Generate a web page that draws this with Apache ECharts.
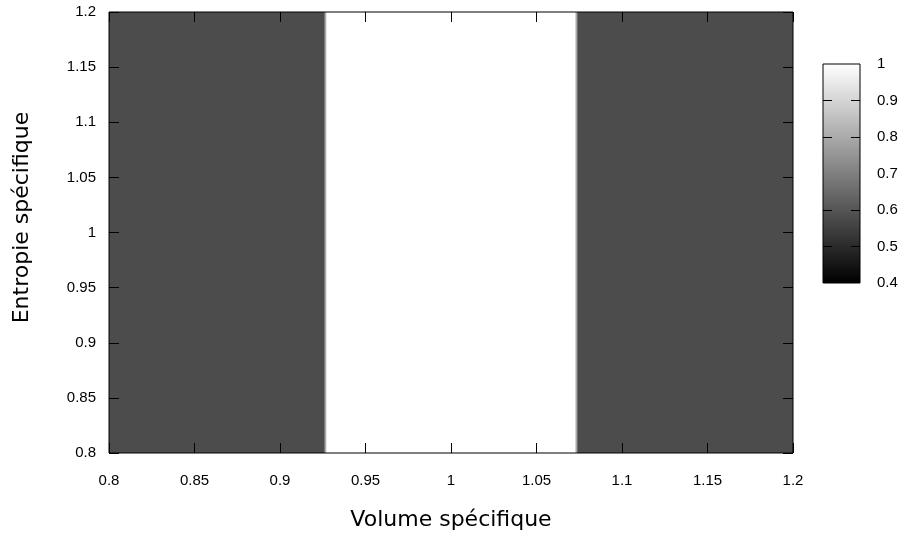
<!DOCTYPE html>
<html>
<head>
<meta charset="utf-8">
<script src="https://cdn.jsdelivr.net/npm/echarts@6/dist/echarts.min.js"></script>
<style>html,body{margin:0;padding:0;background:#fff;}#c{width:906px;height:534px;}</style>
</head>
<body>
<div id="c"></div>
<script>
// Data
const xEdges = [0.8, 0.9262, 0.9272, 1.0728, 1.0738, 1.2];
const cellValues = [0.58, 0.8, 1, 0.8, 0.58];
const yRange = [0.8, 1.2];
const cbRange = [0.4, 1.0];
const cbTickValues = [0.5, 0.6, 0.8, 0.9];
const xTitle = 'Volume spécifique';
const yTitle = 'Entropie spécifique';

const cells = cellValues.map((v, i) => [xEdges[i], xEdges[i + 1], yRange[0], yRange[1], v]);

const tickFont = { fontFamily: 'Liberation Sans', fontSize: 15, color: '#000' };
const titleFont = { fontFamily: 'DejaVu Sans', fontSize: 22, color: '#000' };

const chart = echarts.init(document.getElementById('c'), null, { renderer: 'canvas' });

const mainAxis = (pos, showLabel, extra) => Object.assign({
  type: 'value', gridIndex: 0, position: pos, z: 10,
  min: 0.8, max: 1.2, interval: 0.05,
  axisLine: { show: false },
  axisTick: { show: true, inside: true, length: 10, lineStyle: { color: '#000', width: 1 } },
  splitLine: { show: false },
  axisLabel: Object.assign({ show: showLabel }, tickFont)
}, extra || {});

chart.setOption({
  animation: false,
  backgroundColor: '#fff',
  grid: [
    { left: 109, top: 12, width: 684, height: 441, show: true, z: 9, borderColor: '#000', borderWidth: 1, backgroundColor: 'transparent', containLabel: false, outerBoundsMode: 'none' },
    { left: 823, top: 64, width: 37, height: 219, show: true, z: 9, borderColor: '#000', borderWidth: 1, backgroundColor: 'transparent', containLabel: false, outerBoundsMode: 'none' }
  ],
  visualMap: {
    show: false, type: 'continuous', min: cbRange[0], max: cbRange[1],
    dimension: 4, seriesIndex: 0,
    inRange: { color: ['#000000', '#ffffff'] }
  },
  xAxis: [
    mainAxis('bottom', true, {
      name: xTitle, nameLocation: 'middle', nameGap: 56, nameMoveOverlap: false,
      nameTextStyle: titleFont,
      axisLabel: Object.assign({ show: true, margin: 20 }, tickFont)
    }),
    mainAxis('top', false),
    { type: 'value', gridIndex: 1, min: 0, max: 1, show: false }
  ],
  yAxis: [
    mainAxis('left', true, {
      name: yTitle, nameLocation: 'middle', nameGap: 76, nameMoveOverlap: false,
      nameTextStyle: Object.assign({ padding: [0, 0, 0, 30] }, titleFont),
      axisLabel: Object.assign({ show: true, margin: 13 }, tickFont)
    }),
    mainAxis('right', false),
    {
      type: 'value', gridIndex: 1, position: 'left', z: 10, min: cbRange[0], max: cbRange[1], interval: 0.1,
      axisLine: { show: false }, splitLine: { show: false },
      axisTick: { show: true, inside: true, length: 9, customValues: cbTickValues, lineStyle: { color: '#000' } },
      axisLabel: { show: false }
    },
    {
      type: 'value', gridIndex: 1, position: 'right', z: 10, min: cbRange[0], max: cbRange[1], interval: 0.1,
      axisLine: { show: false }, splitLine: { show: false },
      axisTick: { show: true, inside: true, length: 9, customValues: cbTickValues, lineStyle: { color: '#000' } },
      axisLabel: Object.assign({ show: true, margin: 17 }, tickFont)
    }
  ],
  series: [
    {
      type: 'custom', xAxisIndex: 0, yAxisIndex: 0, z: 1,
      data: cells,
      encode: { x: [0, 1], y: [2, 3] },
      renderItem: function (params, api) {
        const p0 = api.coord([api.value(0), api.value(3)]);
        const p1 = api.coord([api.value(1), api.value(2)]);
        return {
          type: 'rect',
          shape: { x: p0[0], y: p0[1], width: p1[0] - p0[0], height: p1[1] - p0[1] },
          style: { fill: api.visual('color') }
        };
      }
    },
    {
      type: 'custom', xAxisIndex: 2, yAxisIndex: 2, z: 1,
      data: [[0, 1, cbRange[0], cbRange[1]]],
      encode: { x: [0, 1], y: [2, 3] },
      renderItem: function (params, api) {
        const p0 = api.coord([api.value(0), api.value(3)]);
        const p1 = api.coord([api.value(1), api.value(2)]);
        return {
          type: 'rect',
          shape: { x: p0[0], y: p0[1], width: p1[0] - p0[0], height: p1[1] - p0[1] },
          style: {
            fill: new echarts.graphic.LinearGradient(0, 0, 0, 1, [
              { offset: 0, color: '#ffffff' }, { offset: 1, color: '#000000' }
            ])
          }
        };
      }
    }
  ]
});
</script>
</body>
</html>
